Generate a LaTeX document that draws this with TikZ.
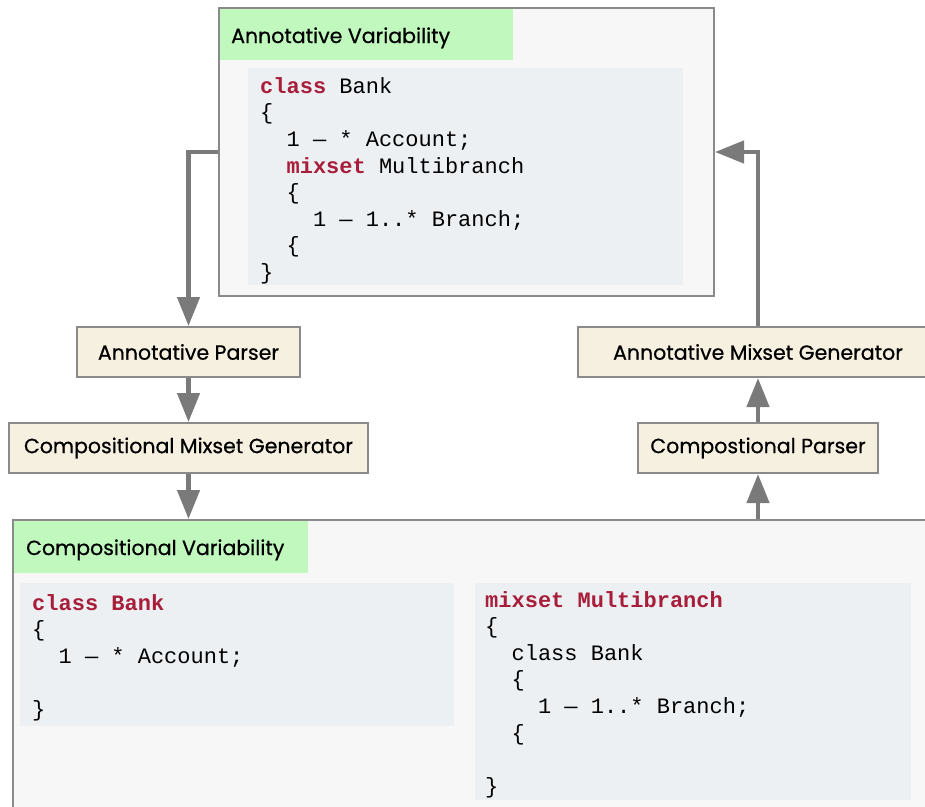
\documentclass[tikz,border=0pt]{standalone}
\usepackage{fontspec}
\setmainfont{Poppins}
\newfontfamily\labelfont{Poppins}[FakeBold=0.6]
\newfontfamily\codefont{Liberation Mono}
\usetikzlibrary{arrows.meta}

\definecolor{edgegray}{HTML}{8A8A8A}
\definecolor{arrowgray}{HTML}{7A7A7A}
\definecolor{panelfill}{HTML}{F7F7F7}
\definecolor{headgreen}{HTML}{C0F8BE}
\definecolor{codebg}{HTML}{EDF0F3}
\definecolor{stepfill}{HTML}{F6F0E0}
\definecolor{kwred}{HTML}{A81E3A}

\newcommand{\kwd}[1]{\textcolor{kwred}{\bfseries #1}}

\tikzset{
  panel/.style={draw=edgegray, line width=2pt, fill=panelfill, anchor=north west, inner sep=0pt},
  stepbox/.style={draw=edgegray, line width=2pt, fill=stepfill, minimum height=50pt,
    inner sep=0pt, font=\labelfont\fontsize{20.5}{24}\selectfont},
  headtext/.style={anchor=base west, inner sep=0pt, font=\labelfont\fontsize{20.5}{24}\selectfont},
  code/.style={anchor=base west, inner sep=0pt, font=\codefont\fontsize{22}{26}\selectfont},
  flow/.style={draw=arrowgray, line width=4.5pt, -{Triangle[length=29pt,width=22pt]}},
}

\begin{document}
\begin{tikzpicture}[x=1pt,y=-1pt]
\useasboundingbox (0,0) rectangle (925,806);
\clip (0,0) rectangle (925,806);

% upper panel: annotative variability
\node[panel, minimum width=495pt, minimum height=288pt] (annot) at (218,7) {};
\fill[headgreen] (220,9) rectangle (513,60);
\node[headtext] (annothead) at (231,43) {Annotative Variability};
\fill[codebg] (248,68) rectangle (683,285);
\node[code] (a1) at (260,93)    {\kwd{class} Bank};
\node[code] (a2) at (260,119.6) {\{};
\node[code] (a3) at (286.4,146) {1 — * Account;};
\node[code] (a4) at (286.4,173) {\kwd{mixset} Multibranch};
\node[code] (a5) at (286.4,199.5) {\{};
\node[code] (a6) at (312.8,226) {1 — 1..* Branch;};
\node[code] (a7) at (286.4,252.5) {\{};
\node[code] (a8) at (260,279)   {\}};

% lower panel: compositional variability
\node[panel, minimum width=940pt, minimum height=320pt] (comp) at (12,519) {};
\fill[headgreen] (14,521) rectangle (308,573);
\node[headtext] (comphead) at (26,555) {Compositional Variability};
\fill[codebg] (20,583) rectangle (454,726);
\node[code] (b1) at (32,610)    {\kwd{class Bank}};
\node[code] (b2) at (32,636.6)  {\{};
\node[code] (b3) at (58.4,663)  {1 — * Account;};
\node[code] (b4) at (32,716)    {\}};
\fill[codebg] (475,583) rectangle (911,800);
\node[code] (c1) at (485,607)     {\kwd{mixset Multibranch}};
\node[code] (c2) at (485,633.5)   {\{};
\node[code] (c3) at (511.4,660)   {class Bank};
\node[code] (c4) at (511.4,686.5) {\{};
\node[code] (c5) at (537.8,713)   {1 — 1..* Branch;};
\node[code] (c6) at (511.4,740)   {\{};
\node[code] (c7) at (485,793)     {\}};

% processing steps
\node[stepbox, minimum width=223pt] (ap)  at (188.5,352) {Annotative Parser};
\node[stepbox, minimum width=359pt] (cmg) at (188.5,448) {Compositional Mixset Generator};
\node[stepbox, minimum width=360pt] (amg) at (758,352)   {Annotative Mixset Generator};
\node[stepbox, minimum width=240pt] (cp)  at (758,448)   {Compostional Parser};

% flow between the representations
\draw[flow] (annot.west) -| (ap.north);
\draw[flow] (ap.south) -- (ap.south |- cmg.north);
\draw[flow] (cmg.south -| ap.south) -- (ap.south |- comp.north);
\draw[flow] (cp.south |- comp.north) -- (cp.south);
\draw[flow] (cp.north) -- (amg.south);
\draw[flow] (amg.north) |- (annot.east);
\end{tikzpicture}
\end{document}
